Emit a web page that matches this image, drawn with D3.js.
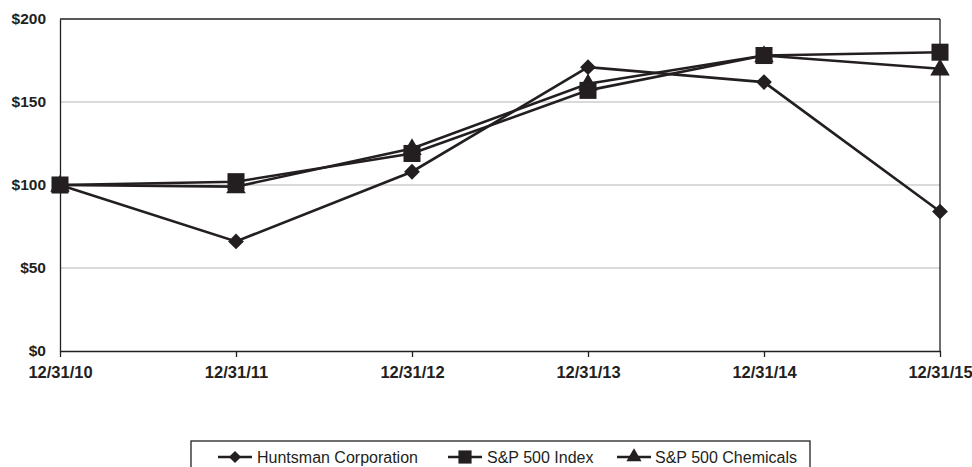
<!DOCTYPE html>
<html><head><meta charset="utf-8">
<script src="https://cdn.jsdelivr.net/npm/d3@7"></script>
<style>body{margin:0;background:#fff}svg{display:block;font-family:"Liberation Sans",Arial,sans-serif}</style>
</head><body>
<svg id="c" width="972" height="467"></svg>
<script>
const categories = ["12/31/10","12/31/11","12/31/12","12/31/13","12/31/14","12/31/15"];
const huntsman = [100, 66, 108, 171, 162, 84];
const sp500 = [100, 102, 119, 157, 178, 180];
const chemicals = [100, 99, 122, 161, 178, 170];
const yTicks = [0, 50, 100, 150, 200];
const seriesNames = ["Huntsman Corporation", "S&P 500 Index", "S&P 500 Chemicals"];

const ink = "#231f20";
const svg = d3.select("#c");
const m = {l:60, r:940, t:19, b:351};
const x = d3.scalePoint().domain(categories).range([m.l, m.r]);
const y = d3.scaleLinear().domain([0,200]).range([m.b, m.t]);

svg.append("g").selectAll("line").data(yTicks.filter(d=>d>0 && d<200)).join("line")
  .attr("x1", m.l).attr("x2", m.r).attr("y1", d=>y(d)).attr("y2", d=>y(d))
  .attr("stroke", "#b5b5b5").attr("stroke-width", 1.2);

svg.append("line").attr("x1", m.l).attr("x2", m.r).attr("y1", m.t).attr("y2", m.t).attr("stroke", ink).attr("stroke-width",1.3);
svg.append("line").attr("x1", m.r).attr("x2", m.r).attr("y1", m.t).attr("y2", m.b).attr("stroke", ink).attr("stroke-width",1.3);

const yAxis = svg.append("g").attr("transform", `translate(${m.l},0)`)
  .call(d3.axisLeft(y).tickValues(yTicks).tickSize(0).tickPadding(14).tickFormat(d=>"$"+d));
yAxis.select(".domain").attr("stroke", ink).attr("stroke-width",1.3);
yAxis.selectAll("text").attr("font-size", 15.5).attr("font-weight","bold").attr("fill", ink)
  .attr("font-family","Liberation Sans, Arial, sans-serif");

const xAxis = svg.append("g").attr("transform", `translate(0,${m.b})`)
  .call(d3.axisBottom(x).tickSize(6).tickSizeOuter(0).tickPadding(9));
xAxis.select(".domain").attr("stroke", ink).attr("stroke-width",1.3);
xAxis.selectAll(".tick line").attr("stroke", ink).attr("stroke-width",1.3);
xAxis.selectAll("text").attr("font-size", 16.5).attr("font-weight","bold").attr("fill", ink)
  .attr("font-family","Liberation Sans, Arial, sans-serif");

const line = d3.line().x((d,i)=>x(categories[i])).y(d=>y(d));
const symbolTypes = [d3.symbolSquare, d3.symbolSquare, d3.symbolTriangle];
const symbolSizes = [125, 290, 165];
function sym(i, sc){ return d3.symbol(symbolTypes[i], symbolSizes[i]*sc)(); }
const allData = [huntsman, sp500, chemicals];
const order = [0, 2, 1];
order.forEach(i=>{
  const data = allData[i];
  const g = svg.append("g");
  g.append("path").datum(data).attr("d", line).attr("fill","none").attr("stroke", ink).attr("stroke-width", 2.6);
  g.selectAll("path.m").data(data).join("path").attr("class","m")
    .attr("d", sym(i,1))
    .attr("transform", (d,j)=>`translate(${x(categories[j])},${y(d) + (i===2?1:0)})` + (i===0?" rotate(45)":""))
    .attr("fill", ink);
});

const lg = svg.append("g");
lg.append("rect").attr("x", 191).attr("y", 441).attr("width", 619).attr("height", 40)
  .attr("fill","none").attr("stroke", ink).attr("stroke-width",1.3);
const legX = [218, 448, 617];
const legTextX = [257, 487, 655];
const ly = 457;
seriesNames.forEach((name,i)=>{
  lg.append("line").attr("x1", legX[i]).attr("x2", legX[i]+34).attr("y1", ly).attr("y2", ly)
    .attr("stroke", ink).attr("stroke-width", 2.4);
  lg.append("path").attr("d", sym(i, 0.6))
    .attr("transform", `translate(${legX[i]+17},${ly})` + (i===0?" rotate(45)":"")).attr("fill", ink);
  lg.append("text").attr("x", legTextX[i]).attr("y", ly+5.5).attr("font-size", 16).attr("fill", ink).text(name);
});
</script>
</body></html>
